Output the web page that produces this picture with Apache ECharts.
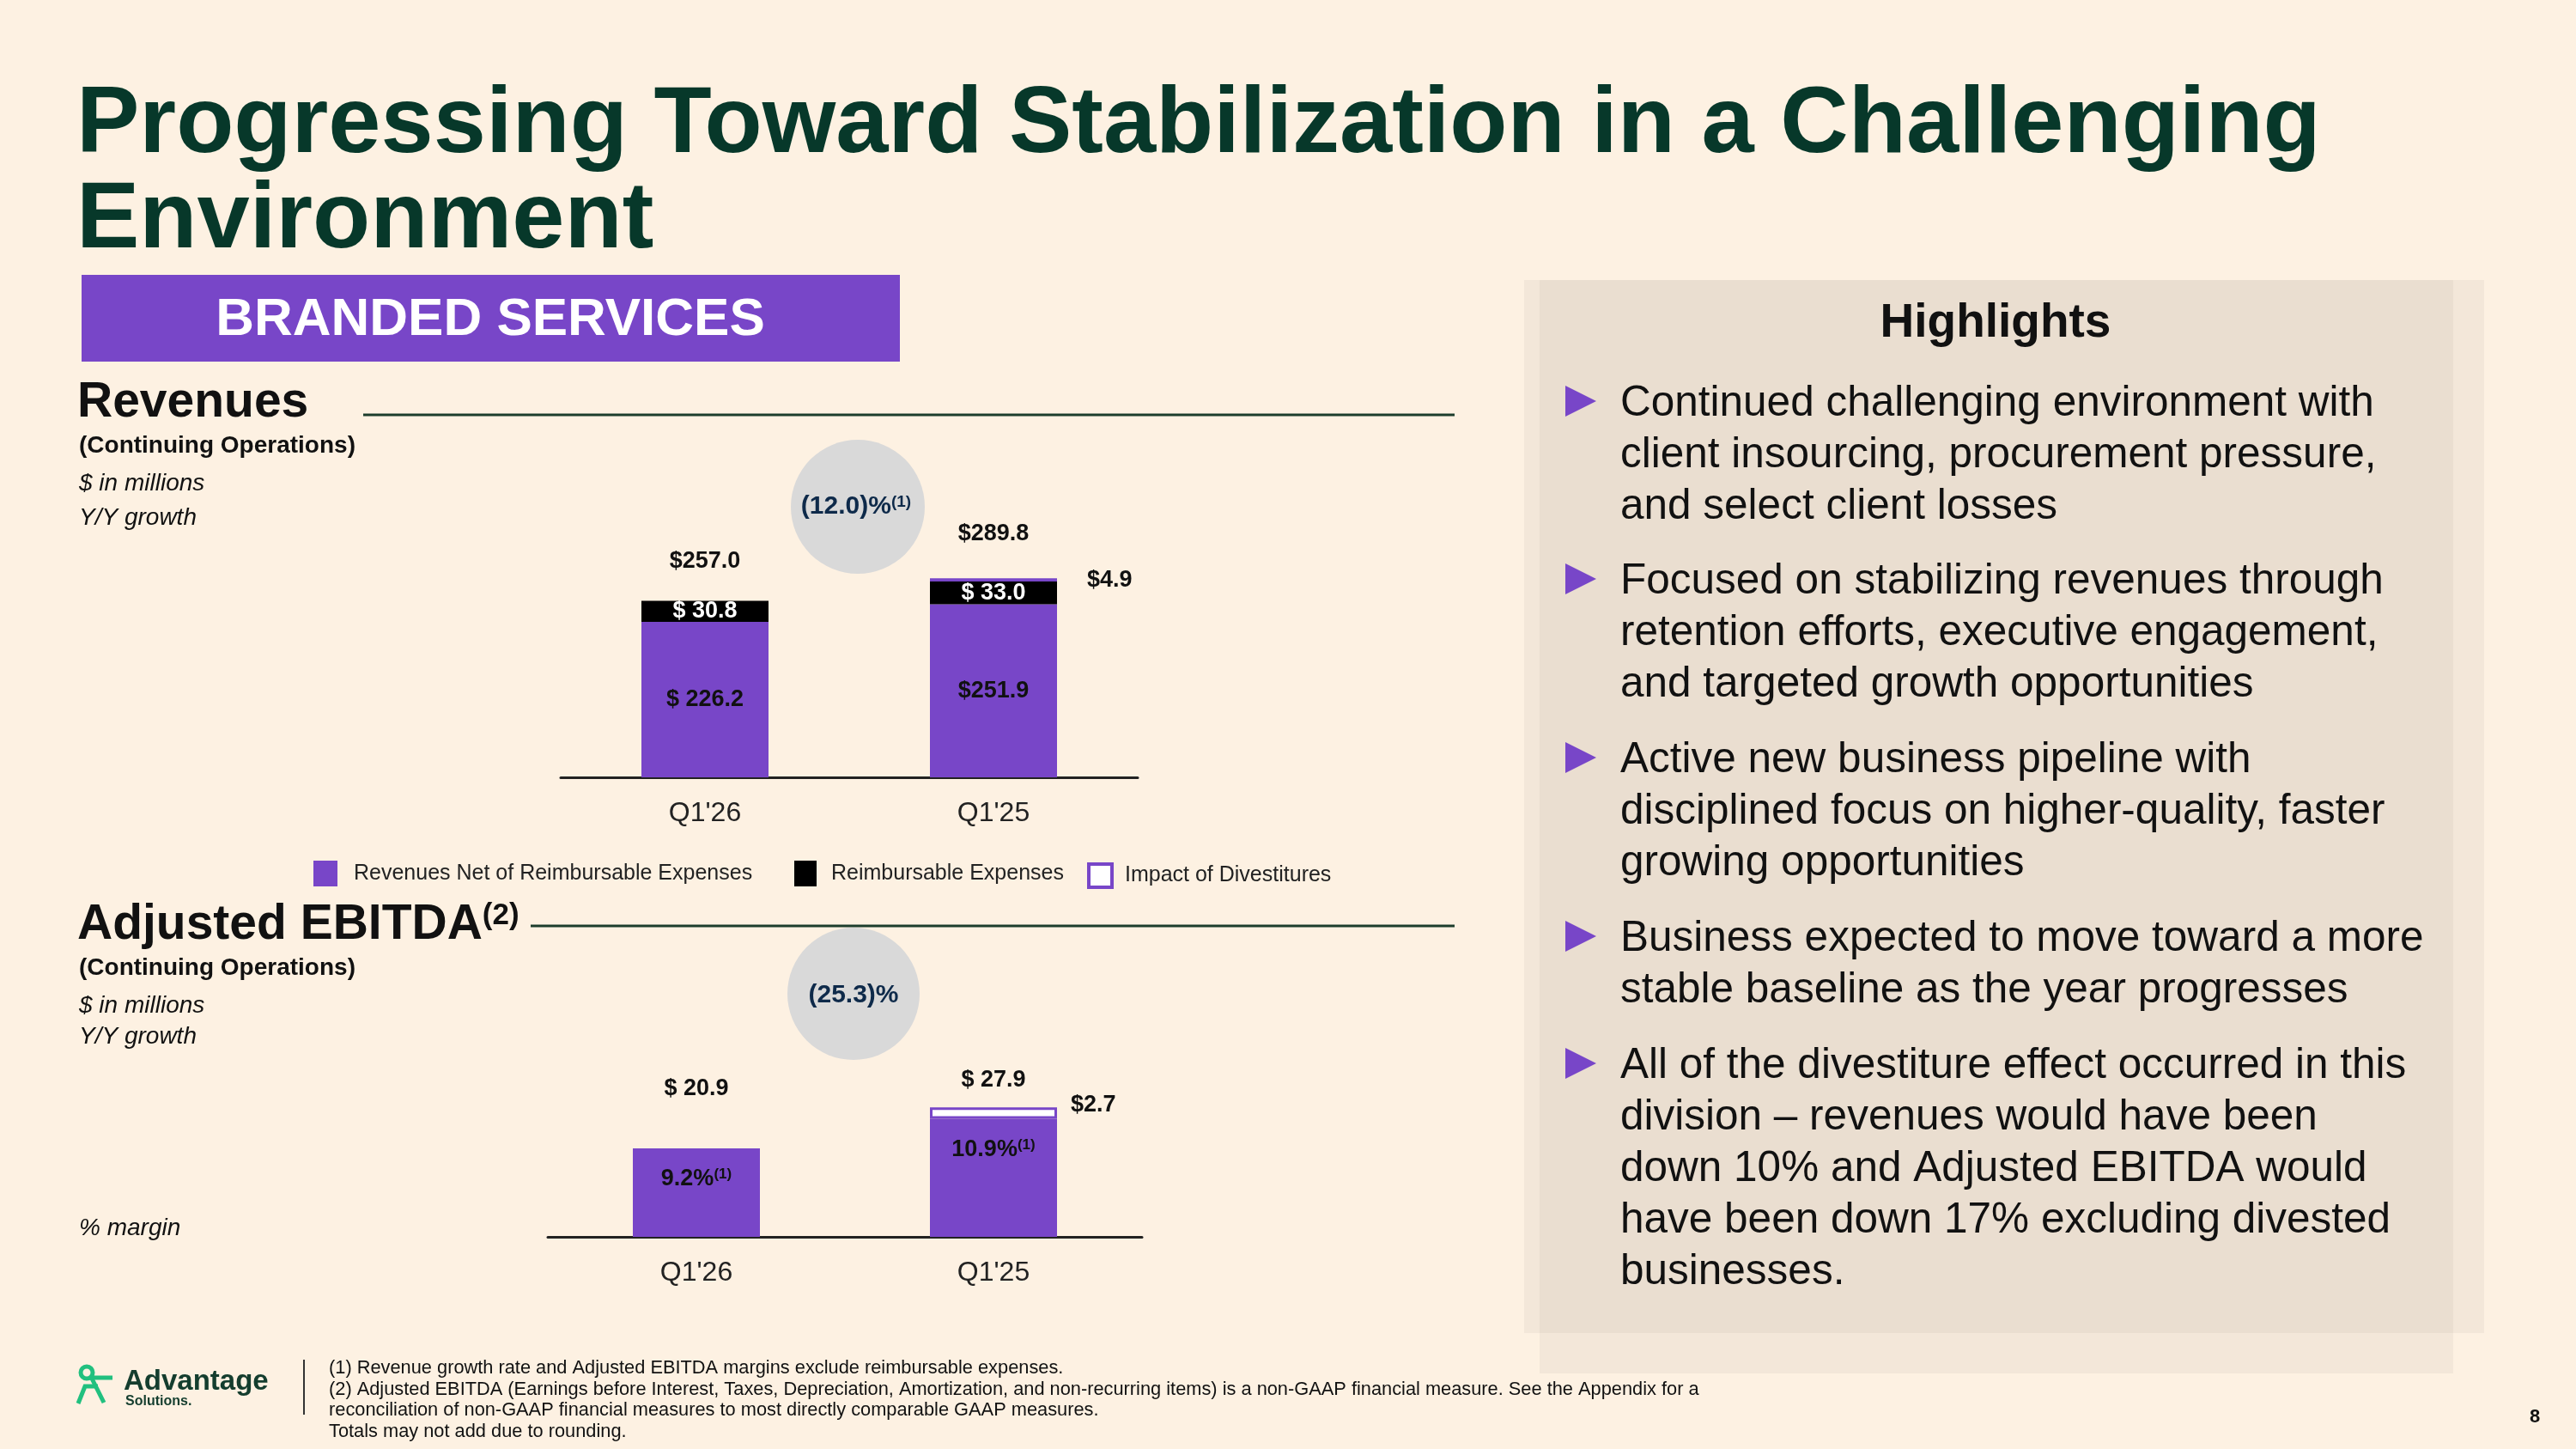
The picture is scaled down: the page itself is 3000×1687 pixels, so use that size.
<!DOCTYPE html>
<html>
<head>
<meta charset="utf-8">
<script src="https://cdn.jsdelivr.net/npm/echarts@6/dist/echarts.min.js"></script>
<style>
html, body { margin: 0; padding: 0; background: #fdf1e2; }
#main { width: 3000px; height: 1687px; }
</style>
</head>
<body>
<div id="main"></div>
<script>
// data
var categories = ["Q1'26", "Q1'25"];
var revNet = [226.2, 251.9];
var revReimb = [30.8, 33.0];
var revDivest = [null, 4.9];
var revTotal = [257.0, 289.8];
var ebitdaNet = [20.9, 27.9];
var ebitdaDivest = [null, 2.7];
var ebitdaMargin = ['9.2%', '10.9%'];
var revGrowth = '(12.0)%';
var ebitdaGrowth = '(25.3)%';

// how the $ signs are written on the slide
var revNetPrefix = ['$ ', '$'];
var revTotalPrefix = ['$', '$'];
var ebitdaTotalPrefix = ['$ ', '$ '];

var bullets = [
	['Continued challenging environment with', 'client insourcing, procurement pressure,', 'and select client losses'],
	['Focused on stabilizing revenues through', 'retention efforts, executive engagement,', 'and targeted growth opportunities'],
	['Active new business pipeline with', 'disciplined focus on higher-quality, faster', 'growing opportunities'],
	['Business expected to move toward a more', 'stable baseline as the year progresses'],
	['All of the divestiture effect occurred in this', 'division \u2013 revenues would have been', 'down 10% and Adjusted EBITDA would', 'have been down 17% excluding divested', 'businesses.']
];
var footnotes = [
	'(1) Revenue growth rate and Adjusted EBITDA margins exclude reimbursable expenses.',
	'(2) Adjusted EBITDA (Earnings before Interest, Taxes, Depreciation, Amortization, and non-recurring items) is a non-GAAP financial measure. See the Appendix for a',
	'reconciliation of non-GAAP financial measures to most directly comparable GAAP measures.',
	'Totals may not add due to rounding.'
];

var FONT = '"Liberation Sans", Arial, Helvetica, sans-serif';
var PURPLE = '#7846c8';
var DARKGREEN = '#07382a';

function txt(x, y, text, font, fill, align, extra) {
	var st = {
		text: text, x: x, y: y, font: font, fill: fill || '#111',
		textAlign: align || 'left', align: align || 'left',
		textVerticalAlign: 'middle', verticalAlign: 'middle'
	};
	if (extra) {
		for (var k in extra) st[k] = extra[k];
	}
	return { type: 'text', z: 10, style: st };
}

var els = [];
// highlights panel
els.push({ type: 'rect', z: 1, shape: { x: 1775, y: 326, width: 1118, height: 1226 }, style: { fill: 'rgba(160,150,140,0.1)' } });
els.push({ type: 'rect', z: 1, shape: { x: 1793, y: 326, width: 1064, height: 1273 }, style: { fill: 'rgba(160,150,140,0.1)' } });

// title
els.push(txt(89, 147, 'Progressing Toward Stabilization in a Challenging', 'bold 110px ' + FONT, DARKGREEN));
els.push(txt(89, 258, 'Environment', 'bold 110px ' + FONT, DARKGREEN));

// branded services box
els.push({ type: 'rect', z: 2, shape: { x: 95, y: 320, width: 953, height: 101 }, style: { fill: PURPLE } });
els.push(txt(571, 373, 'BRANDED SERVICES', 'bold 62px ' + FONT, '#ffffff', 'center'));

// revenues header
els.push(txt(90, 469, 'Revenues', 'bold 57px ' + FONT, '#111'));
els.push({ type: 'line', z: 5, shape: { x1: 423, y1: 483, x2: 1694, y2: 483 }, style: { stroke: '#1c3d2c', lineWidth: 3 } });
els.push(txt(92, 519, '(Continuing Operations)', 'bold 28px ' + FONT, '#111'));
els.push(txt(92, 563, '$ in millions', 'italic 28px ' + FONT, '#111'));
els.push(txt(92, 603, 'Y/Y growth', 'italic 28px ' + FONT, '#111'));

// growth circles
els.push({ type: 'circle', z: 3, shape: { cx: 999, cy: 590, r: 78 }, style: { fill: '#d9d9d9' } });
els.push(txt(997, 590, '{m|' + revGrowth + '}{s|(1)}', null, '#0e2a4a', 'center', {
	rich: { m: { font: 'bold 30px ' + FONT, fill: '#0e2a4a' }, s: { font: 'bold 19px ' + FONT, fill: '#0e2a4a', verticalAlign: 'top' } }
}));
els.push({ type: 'circle', z: 3, shape: { cx: 994, cy: 1157, r: 77 }, style: { fill: '#d9d9d9' } });
els.push(txt(994, 1159, ebitdaGrowth, 'bold 30px ' + FONT, '#0e2a4a', 'center'));

// ebitda header
els.push(txt(90, 1077, '{m|Adjusted EBITDA}{s|(2)}', null, '#111', 'left', {
	rich: { m: { font: 'bold 57px ' + FONT, fill: '#111' }, s: { font: 'bold 35px ' + FONT, fill: '#111', verticalAlign: 'top' } }
}));
els.push({ type: 'line', z: 5, shape: { x1: 618, y1: 1078, x2: 1694, y2: 1078 }, style: { stroke: '#1c3d2c', lineWidth: 3 } });
els.push(txt(92, 1127, '(Continuing Operations)', 'bold 28px ' + FONT, '#111'));
els.push(txt(92, 1171, '$ in millions', 'italic 28px ' + FONT, '#111'));
els.push(txt(92, 1207, 'Y/Y growth', 'italic 28px ' + FONT, '#111'));
els.push(txt(92, 1430, '% margin', 'italic 28px ' + FONT, '#111'));

// highlights
els.push(txt(2324, 377, 'Highlights', 'bold 55px ' + FONT, '#111', 'center'));
var firstCenters = [467, 674, 882, 1090, 1238];
for (var b = 0; b < bullets.length; b++) {
	var cy = firstCenters[b];
	els.push({ type: 'polygon', z: 10, shape: { points: [[1823, cy - 18], [1859, cy], [1823, cy + 18]] }, style: { fill: PURPLE } });
	for (var l = 0; l < bullets[b].length; l++) {
		els.push(txt(1887, cy + 3 + l * 60, bullets[b][l], '49.5px ' + FONT, '#111'));
	}
}

// footer logo
els.push({ type: 'circle', z: 10, shape: { cx: 101, cy: 1598, r: 7 }, style: { fill: 'none', stroke: '#21c07f', lineWidth: 5 } });
els.push({ type: 'polyline', z: 10, shape: { points: [[106, 1603], [121, 1633]] }, style: { stroke: '#21c07f', lineWidth: 5, fill: 'none' } });
els.push({ type: 'polyline', z: 10, shape: { points: [[107, 1604], [131, 1604]] }, style: { stroke: '#21c07f', lineWidth: 5, fill: 'none' } });
els.push({ type: 'polyline', z: 10, shape: { points: [[91, 1634], [99, 1614], [114, 1614]] }, style: { stroke: '#21c07f', lineWidth: 5, fill: 'none' } });
els.push(txt(144, 1609, 'Advantage', 'bold 33px ' + FONT, '#143d2e'));
els.push(txt(146, 1632, 'Solutions.', 'bold 16px ' + FONT, '#143d2e'));
els.push({ type: 'line', z: 10, shape: { x1: 354, y1: 1583, x2: 354, y2: 1647 }, style: { stroke: '#333', lineWidth: 2 } });
for (var f = 0; f < footnotes.length; f++) {
	els.push(txt(383, 1593 + f * 24.5, footnotes[f], '21.8px ' + FONT, '#111'));
}
els.push(txt(2952, 1650, '8', 'bold 22px ' + FONT, '#111', 'center'));

// how far above its value each total label sits (px)
var revTotalDist = [46, 52];
var ebitdaTotalDist = [70, 45];

var labelFont = { fontFamily: FONT, fontSize: 27, fontWeight: 'bold', color: '#111' };

function catAxis(idx) {
	return {
		type: 'category', gridIndex: idx, data: categories,
		axisLine: { lineStyle: { color: '#222', width: 3 } },
		axisTick: { show: false },
		axisLabel: { margin: 26, fontSize: 32, fontFamily: FONT, color: '#222' }
	};
}
function valAxis(idx, max) {
	return { type: 'value', gridIndex: idx, min: 0, max: max, show: false, splitLine: { show: false } };
}
// total labels drawn through the axis scales
function totalSeries(idx, values, prefix, dist) {
	return {
		type: 'custom', xAxisIndex: idx, yAxisIndex: idx, silent: true, z: 5,
		data: values.map(function(v, i) { return [i, v]; }),
		renderItem: function(params, api) {
			var i = params.dataIndex;
			var pt = api.coord([api.value(0), api.value(1)]);
			return {
				type: 'text',
				style: {
					text: prefix[i] + values[i].toFixed(1), x: pt[0], y: pt[1] - dist[i],
					font: 'bold 27px ' + FONT, fill: '#111',
					textAlign: 'center', align: 'center', textVerticalAlign: 'middle', verticalAlign: 'middle'
				}
			};
		}
	};
}

var option = {
	backgroundColor: '#fdf1e2',
	animation: false,
	textStyle: { fontFamily: FONT },
	graphic: { elements: els },
	grid: [
		{ left: 653, right: 1675, top: 665, bottom: 782 },
		{ left: 638, right: 1670, top: 1243, bottom: 247 }
	],
	xAxis: [catAxis(0), catAxis(1)],
	yAxis: [valAxis(0, 300), valAxis(1, 40)],
	legend: [
		{ data: ['Revenues Net of Reimbursable Expenses'], left: 360, top: 997, itemWidth: 28, itemHeight: 30, icon: 'rect',
			textStyle: { fontSize: 25, fontFamily: FONT, color: '#222', padding: [0, 0, 0, 14] } },
		{ data: ['Reimbursable Expenses'], left: 920, top: 997, itemWidth: 26, itemHeight: 30, icon: 'rect',
			textStyle: { fontSize: 25, fontFamily: FONT, color: '#222', padding: [0, 0, 0, 12] } },
		{ data: ['Impact of Divestitures'], left: 1261, top: 999, itemWidth: 27, itemHeight: 27, icon: 'rect',
			itemStyle: { color: '#ffffff', borderColor: PURPLE, borderWidth: 4 },
			textStyle: { fontSize: 25, fontFamily: FONT, color: '#222', padding: [4, 0, 0, 10] } }
	],
	series: [
		{
			name: 'Revenues Net of Reimbursable Expenses', type: 'bar', stack: 'rev', xAxisIndex: 0, yAxisIndex: 0,
			barWidth: 148, data: revNet, itemStyle: { color: PURPLE },
			label: Object.assign({ show: true, position: 'inside',
				formatter: function(p) { return revNetPrefix[p.dataIndex] + p.value.toFixed(1); } }, labelFont)
		},
		{
			name: 'Reimbursable Expenses', type: 'bar', stack: 'rev', xAxisIndex: 0, yAxisIndex: 0,
			barWidth: 148, data: revReimb, itemStyle: { color: '#000000' },
			label: Object.assign({ show: true, position: 'inside',
				formatter: function(p) { return '$ ' + p.value.toFixed(1); } }, labelFont, { color: '#ffffff' })
		},
		{
			name: 'Impact of Divestitures', type: 'bar', stack: 'rev', xAxisIndex: 0, yAxisIndex: 0,
			barWidth: 148, data: revDivest, itemStyle: { color: '#ffffff', borderColor: PURPLE, borderWidth: 3 },
			label: Object.assign({ show: true, position: 'right', distance: 35,
				formatter: function(p) { return '$' + p.value.toFixed(1); } }, labelFont)
		},
		totalSeries(0, revTotal, revTotalPrefix, revTotalDist),
		{
			name: 'Adjusted EBITDA', type: 'bar', stack: 'eb', xAxisIndex: 1, yAxisIndex: 1,
			barWidth: 148, data: ebitdaNet, itemStyle: { color: PURPLE },
			label: { show: true, position: 'insideTop', distance: 22,
				formatter: function(p) { return '{m|' + ebitdaMargin[p.dataIndex] + '}{s|(1)}'; },
				rich: {
					m: { fontFamily: FONT, fontSize: 27, fontWeight: 'bold', color: '#111' },
					s: { fontFamily: FONT, fontSize: 17, fontWeight: 'bold', color: '#111', verticalAlign: 'top' }
				}
			}
		},
		{
			name: 'Impact of Divestitures', type: 'bar', stack: 'eb', xAxisIndex: 1, yAxisIndex: 1,
			barWidth: 148, data: ebitdaDivest, itemStyle: { color: '#ffffff', borderColor: PURPLE, borderWidth: 3 },
			label: Object.assign({ show: true, position: 'right', distance: 16, offset: [0, -9],
				formatter: function(p) { return '$' + p.value.toFixed(1); } }, labelFont)
		},
		totalSeries(1, ebitdaNet, ebitdaTotalPrefix, ebitdaTotalDist)
	]
};

var chart = echarts.init(document.getElementById('main'), null, { renderer: 'canvas' });
chart.setOption(option);
</script>
</body>
</html>
